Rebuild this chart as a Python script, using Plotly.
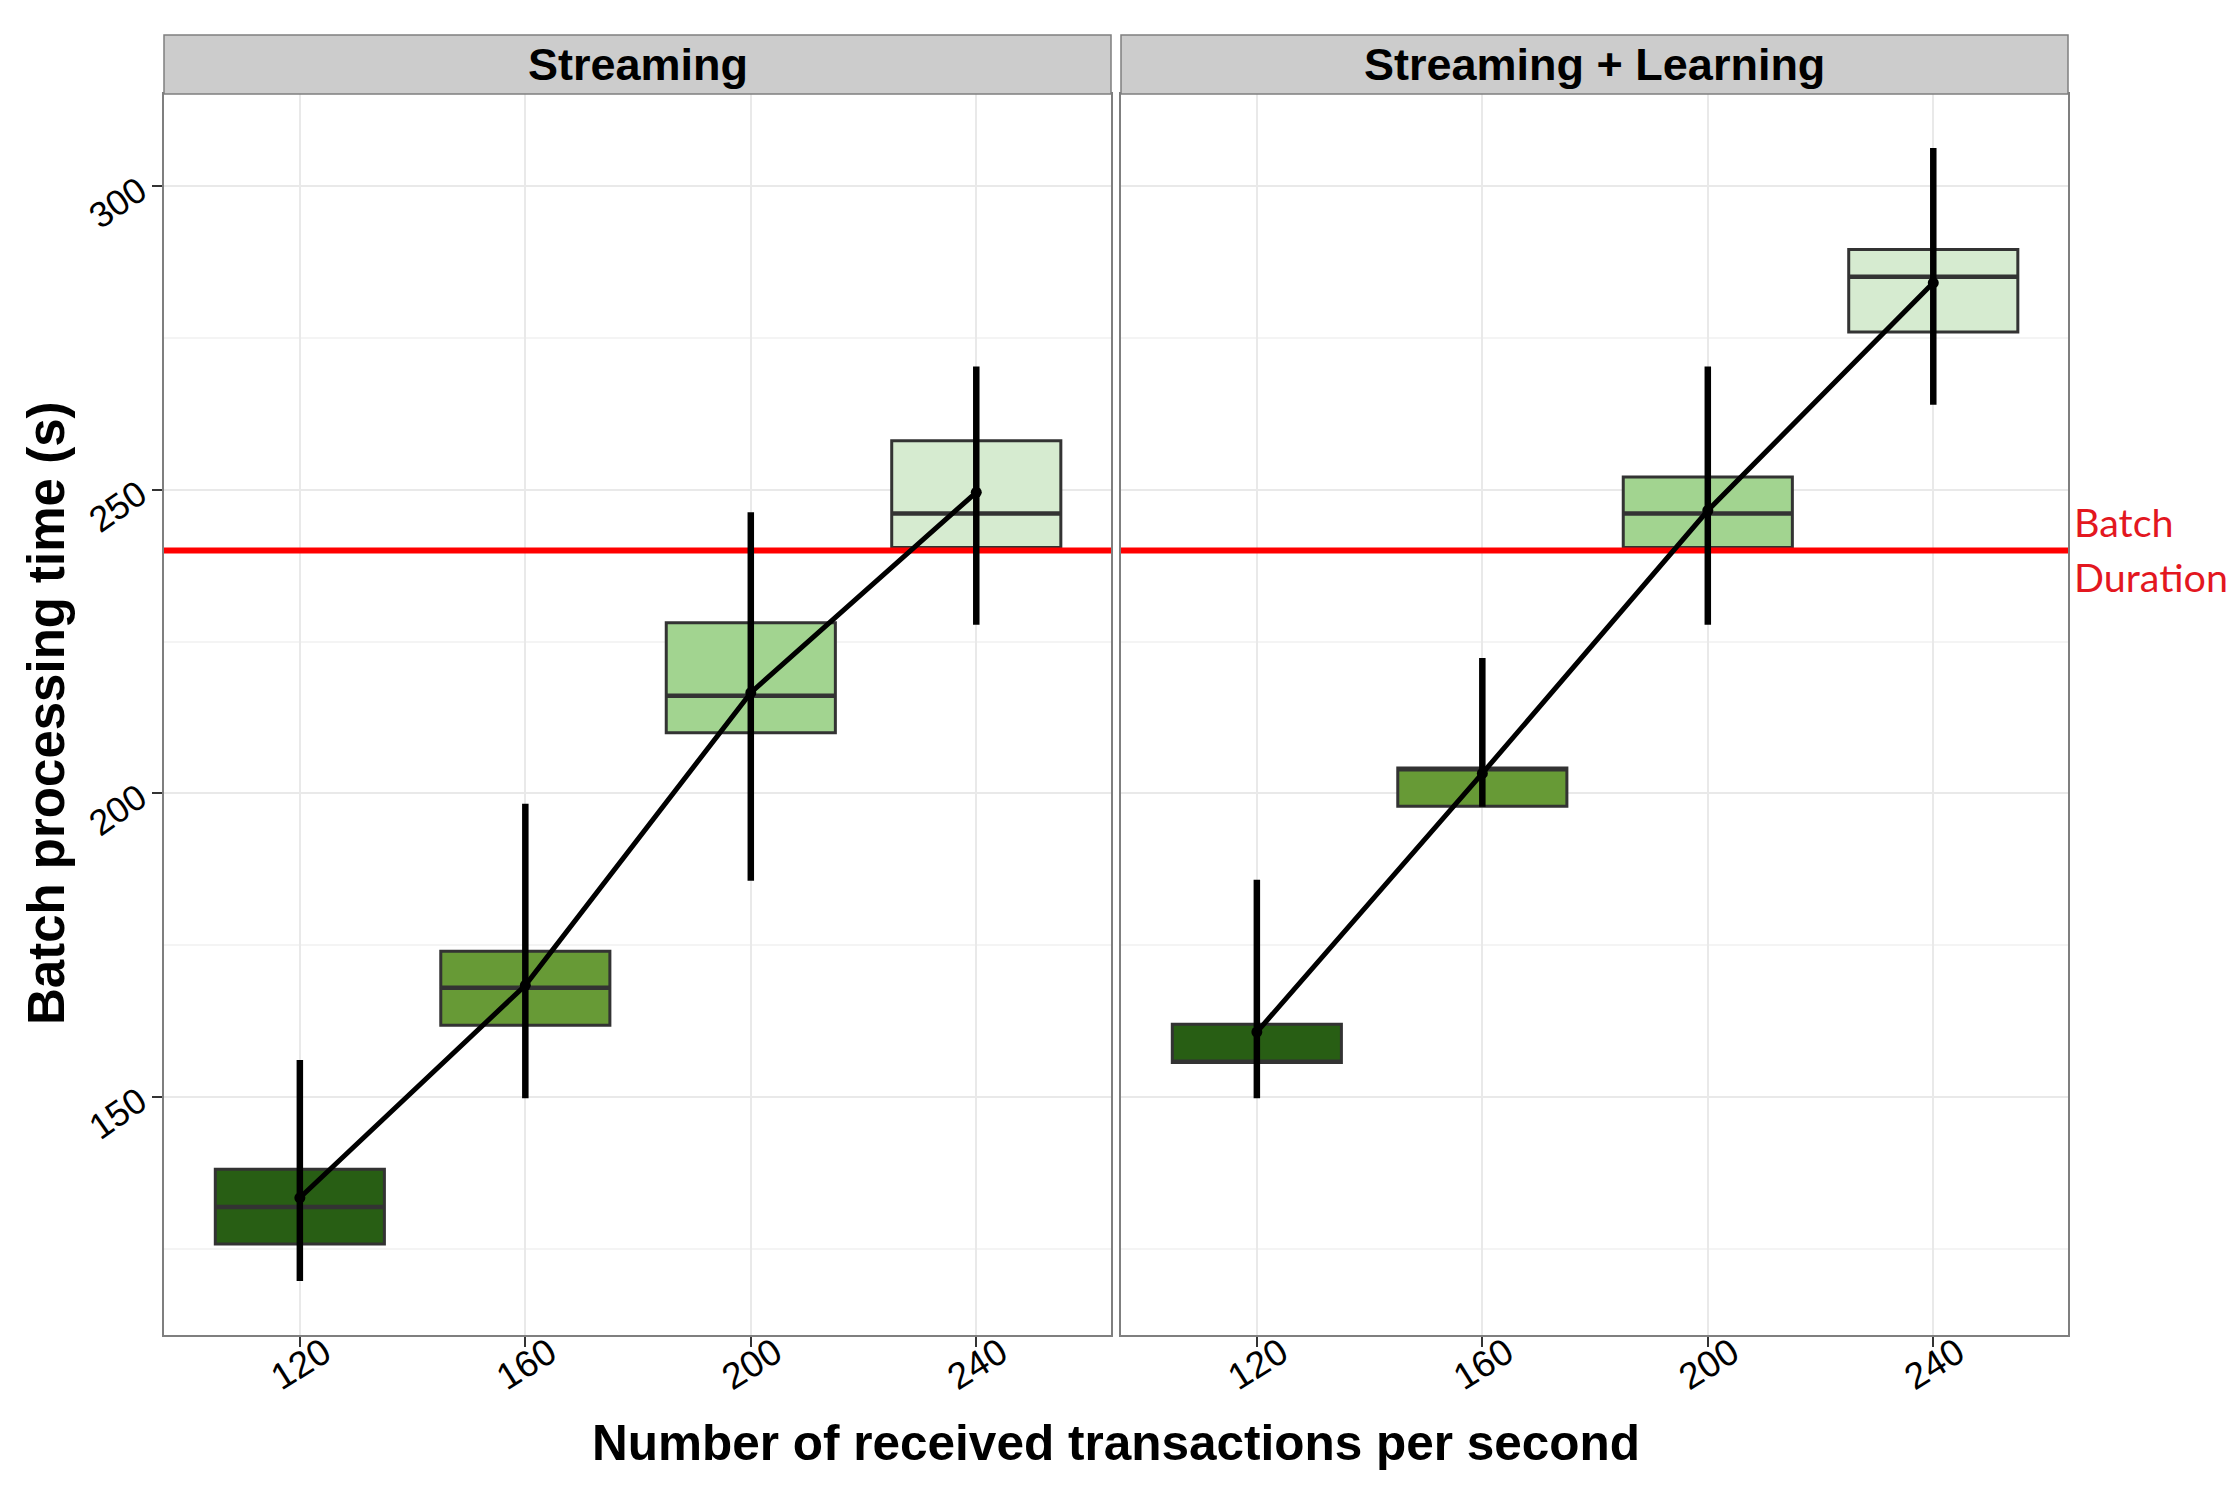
import plotly.graph_objects as go

W, H = 2235, 1487

# ---------------- data ----------------
rates = [120, 160, 200, 240]
panels = ["Streaming", "Streaming + Learning"]
fill_colors = ["#285e14", "#679a36", "#a2d490", "#d6ebd0"]

# Streaming
s_q1 = [125.8, 161.8, 210.0, 240.5]
s_median = [131.9, 168.0, 216.1, 246.1]
s_q3 = [138.1, 174.0, 228.1, 258.1]
s_mean = [133.4, 168.4, 216.6, 249.6]
s_low = [119.7, 149.8, 185.6, 227.8]
s_high = [156.1, 198.3, 246.3, 270.3]

# Streaming + Learning
l_q1 = [155.7, 197.9, 240.5, 276.0]
l_median = [155.8, 204.0, 246.1, 285.1]
l_q3 = [162.0, 204.2, 252.1, 289.6]
l_mean = [160.7, 203.3, 246.6, 284.1]
l_low = [149.8, 197.8, 227.8, 264.0]
l_high = [185.8, 222.3, 270.3, 306.3]

batch_duration = 240
box_width = 30
y_ticks = [150, 200, 250, 300]
y_minor = [125, 175, 225, 275]
x_range = [95.9, 263.9]
y_range = [110.8, 315.2]

# ---------------- layout geometry (pixels) ----------------
px1 = (164, 1111)
px2 = (1121, 2068)
plot_top, plot_bottom = 94, 1335
strip_top = 35

def fx(p):
    return p / W

def fy(p):
    return 1 - p / H

fig = go.Figure()

datasets = [
    ("x", "y", s_q1, s_median, s_q3, s_mean, s_low, s_high),
    ("x2", "y2", l_q1, l_median, l_q3, l_mean, l_low, l_high),
]

for xa, ya, q1, med, q3, mean, low, high in datasets:
    for i, r in enumerate(rates):
        fig.add_trace(go.Box(
            x=[r], q1=[q1[i]], median=[med[i]], q3=[q3[i]],
            lowerfence=[q1[i]], upperfence=[q3[i]],
            width=box_width, whiskerwidth=0,
            fillcolor=fill_colors[i],
            line=dict(color="#333333", width=3),
            xaxis=xa, yaxis=ya, showlegend=False, hoverinfo="skip",
        ))
    # thicker median segments (as in ggplot boxplots)
    mx, my = [], []
    for r, m in zip(rates, med):
        mx += [r - box_width / 2, r + box_width / 2, None]
        my += [m, m, None]
    fig.add_trace(go.Scatter(
        x=mx, y=my, mode="lines", line=dict(color="#333333", width=4.5),
        xaxis=xa, yaxis=ya, showlegend=False, hoverinfo="skip",
    ))
    # batch duration reference line
    fig.add_trace(go.Scatter(
        x=x_range, y=[batch_duration, batch_duration], mode="lines",
        line=dict(color="#ff0000", width=6),
        xaxis=xa, yaxis=ya, showlegend=False, hoverinfo="skip",
    ))
    # mean line with range bars
    fig.add_trace(go.Scatter(
        x=rates, y=mean, mode="lines+markers",
        line=dict(color="black", width=5),
        marker=dict(color="black", size=11),
        error_y=dict(type="data", symmetric=False,
                     array=[h - m for h, m in zip(high, mean)],
                     arrayminus=[m - l for m, l in zip(mean, low)],
                     thickness=6.5, width=0, color="black"),
        xaxis=xa, yaxis=ya, showlegend=False, hoverinfo="skip",
    ))

axis_common = dict(
    range=x_range, tickvals=rates, ticktext=[str(r) for r in rates],
    tickangle=-32, ticks="outside", ticklen=10, tickwidth=2, tickcolor="#333333",
    tickfont=dict(family="Liberation Sans", size=37, color="black"),
    ticklabelshift=24, ticklabelstandoff=-30,
    showgrid=True, gridcolor="#e9e9e9", gridwidth=1.5,
    showline=True, mirror=True, linecolor="#7f7f7f", linewidth=1.5,
    zeroline=False, fixedrange=True,
)
yaxis_common = dict(
    range=y_range, tickvals=y_ticks, ticktext=[str(v) for v in y_ticks],
    showgrid=True, gridcolor="#e9e9e9", gridwidth=1.5,
    minor=dict(tickvals=y_minor, showgrid=True, gridcolor="#f4f4f4", gridwidth=1.5, ticks=""),
    showline=True, mirror=True, linecolor="#7f7f7f", linewidth=1.5,
    zeroline=False, fixedrange=True,
    domain=[fy(plot_bottom), fy(plot_top)],
)

fig.update_layout(
    width=W, height=H,
    margin=dict(l=0, r=0, t=0, b=0),
    paper_bgcolor="white", plot_bgcolor="white",
    boxmode="overlay",
    xaxis=dict(domain=[fx(px1[0]), fx(px1[1])], anchor="y", **axis_common),
    xaxis2=dict(domain=[fx(px2[0]), fx(px2[1])], anchor="y2", **axis_common),
    yaxis=dict(anchor="x", ticks="outside", ticklen=10, tickwidth=2, tickcolor="#333333",
               tickangle=-35, ticklabelstandoff=6,
               tickfont=dict(family="Liberation Sans", size=36, color="black"),
               **yaxis_common),
    yaxis2=dict(anchor="x2", showticklabels=False, ticks="", **yaxis_common),
)

# facet strips
shapes = []
annotations = []
for (a, b), title in zip([px1, px2], panels):
    shapes.append(dict(type="rect", xref="paper", yref="paper",
                       x0=fx(a), x1=fx(b), y0=fy(plot_top), y1=fy(strip_top),
                       fillcolor="#cccccc", line=dict(color="#7f7f7f", width=1.5),
                       layer="above"))
    annotations.append(dict(text="<b>%s</b>" % title, xref="paper", yref="paper",
                            x=(fx(a) + fx(b)) / 2, y=fy((strip_top + plot_top) / 2),
                            xanchor="center", yanchor="middle", showarrow=False,
                            font=dict(family="Liberation Sans", size=45, color="black")))

# axis titles
annotations.append(dict(text="<b>Number of received transactions per second</b>",
                        xref="paper", yref="paper", x=fx(1116), y=fy(1442),
                        xanchor="center", yanchor="middle", showarrow=False,
                        font=dict(family="Liberation Sans", size=49.5, color="black")))
annotations.append(dict(text="<b>Batch processing time (s)</b>",
                        xref="paper", yref="paper", x=fx(47), y=fy(714),
                        xanchor="center", yanchor="middle", textangle=-90, showarrow=False,
                        font=dict(family="Liberation Sans", size=51, color="black")))

# Batch duration label
annotations.append(dict(text="Batch", xref="paper", yref="paper",
                        x=fx(2072), y=fy(521), xanchor="left", yanchor="middle",
                        showarrow=False,
                        font=dict(family="Lato", size=39.5, color="#e3171f")))
annotations.append(dict(text="Duration", xref="paper", yref="paper",
                        x=fx(2072), y=fy(576), xanchor="left", yanchor="middle",
                        showarrow=False,
                        font=dict(family="Lato", size=39.5, color="#e3171f")))

fig.update_layout(shapes=shapes, annotations=annotations)

fig.write_html("out.html", config={"displayModeBar": False},
               post_script="document.body.style.margin='0px';document.body.style.overflow='hidden';")
